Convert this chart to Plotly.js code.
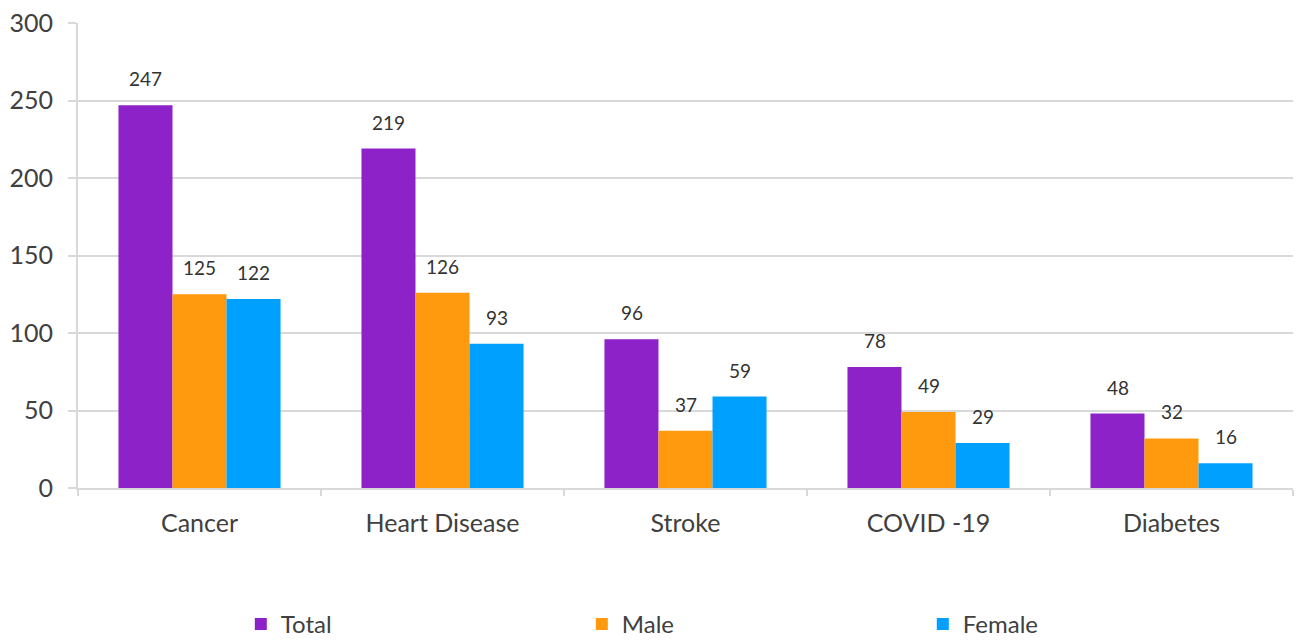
<!DOCTYPE html>
<html><head><meta charset="utf-8">
<script src="https://cdn.plot.ly/plotly-3.0.1.min.js"></script>
<style>body{margin:0;background:#fff}#chart{width:1301px;height:641px}</style>
</head><body><div id="chart"></div>
<script>
const categories = ["Cancer", "Heart Disease", "Stroke", "COVID -19", "Diabetes"];
const totalValues = [247, 219, 96, 78, 48];
const maleValues = [125, 126, 37, 49, 32];
const femaleValues = [122, 93, 59, 29, 16];
const seriesNames = ["Total", "Male", "Female"];
const colors = ["#8E22C9", "#FF9A0E", "#00A0FF"];
const yTicks = [0, 50, 100, 150, 200, 250, 300];

const FONT = "Lato, 'Open Sans', sans-serif";
const vals = [totalValues, maleValues, femaleValues];
const traces = vals.map((v, i) => ({
  type: "bar", name: seriesNames[i], x: categories, y: v,
  marker: {color: colors[i]},
  hoverinfo: "x+y"
}));

// data labels via annotations anchored to data coordinates
const barPx = 54;
const annotations = [];
vals.forEach((v, i) => {
  v.forEach((val, j) => {
    annotations.push({
      x: categories[j], y: val, xref: "x", yref: "y",
      text: String(val), showarrow: false,
      xshift: (i - 1) * barPx, yshift: 13, yanchor: "bottom",
      font: {family: FONT, size: 19, color: "#333"}
    });
  });
});

const layout = {
  width: 1301, height: 641,
  margin: {l: 78, r: 8, t: 23, b: 153},
  paper_bgcolor: "#fff", plot_bgcolor: "#fff",
  font: {family: FONT, color: "#404040"},
  barmode: "group", bargap: 0.333, bargroupgap: 0,
  showlegend: true,
  annotations: annotations,
  legend: {orientation: "h", x: 0.134, xanchor: "left", xref: "paper",
    yref: "container", y: 0.026, yanchor: "middle",
    entrywidth: 296, entrywidthmode: "pixels", traceorder: "normal",
    font: {family: FONT, size: 24, color: "#404040"}},
  xaxis: {
    showline: true, linecolor: "#d9d9d9", linewidth: 2,
    ticks: "outside", tickson: "boundaries", ticklen: 6, tickcolor: "#d9d9d9", tickwidth: 2,
    tickfont: {family: FONT, size: 25, color: "#404040"},
    ticklabelstandoff: 12,
    showgrid: false
  },
  yaxis: {
    range: [0, 300], tickvals: yTicks, ticktext: yTicks.map(String),
    showline: true, linecolor: "#d9d9d9", linewidth: 2,
    ticks: "outside", ticklen: 8, tickcolor: "#d9d9d9", tickwidth: 2,
    showgrid: true, gridcolor: "#d9d9d9", gridwidth: 2,
    zeroline: false,
    tickfont: {family: FONT, size: 25, color: "#404040"},
    ticklabelstandoff: 10
  }
};
Plotly.newPlot("chart", traces, layout, {displayModeBar: false, staticPlot: true});
</script></body></html>
